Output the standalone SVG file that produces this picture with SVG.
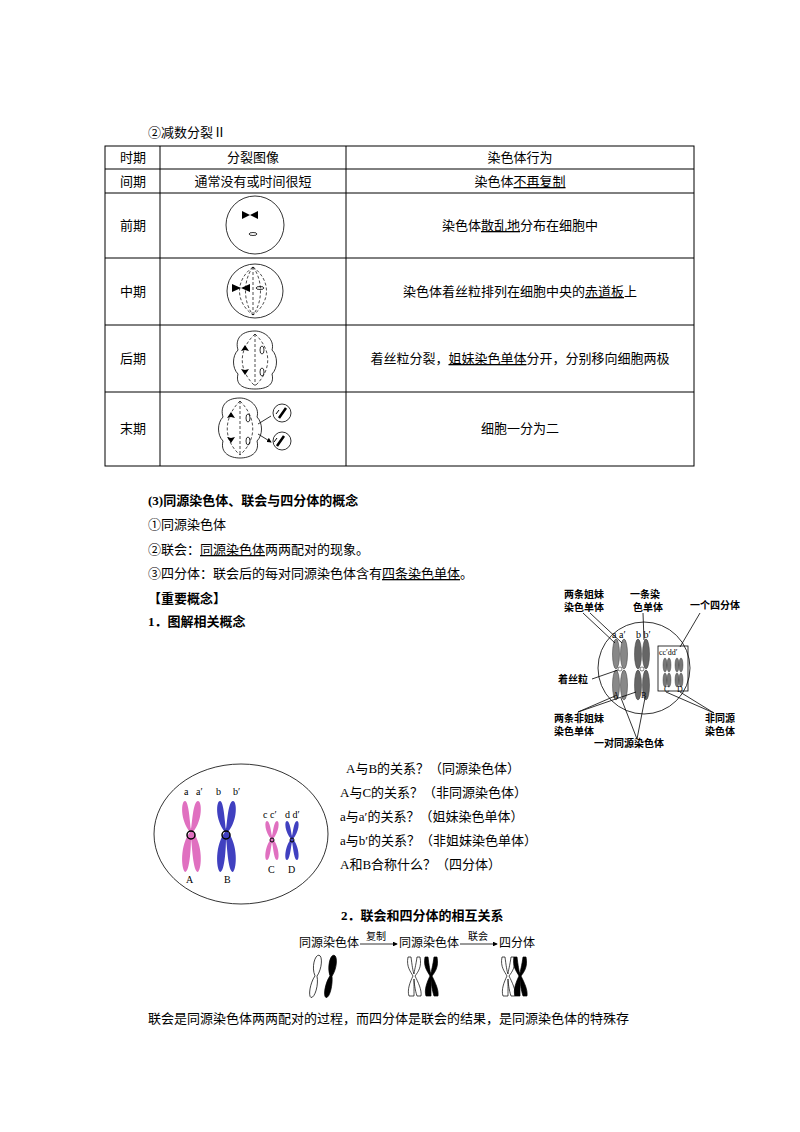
<svg xmlns="http://www.w3.org/2000/svg" width="800" height="1132" viewBox="0 0 800 1132">
<style>
text{font-family:"Liberation Serif","Noto Sans CJK SC",serif;font-size:13px;fill:#000}
.c{text-anchor:middle}
.b{font-weight:bold}
.s{font-size:10px}
.tl{stroke:#000;stroke-width:1;fill:none}
.d{stroke:#000;stroke-width:0.7;stroke-dasharray:3,2;fill:none}
.ln{stroke:#000;stroke-width:0.8;fill:none}
</style>
<defs>
<marker id="ar" markerWidth="6" markerHeight="6" refX="5" refY="3" orient="auto"><path d="M0,0L6,3L0,6z" fill="#000"/></marker>
</defs>
<rect width="800" height="1132" fill="#fff"/>
<text x="148" y="137">②减数分裂Ⅱ</text>
<g id="table">
<rect x="105" y="146" width="589" height="320" class="tl"/>
<path class="tl" d="M105,169H694M105,193H694M105,258H694M105,325H694M105,392H694M160,146V466M346,146V466"/>
<text x="133" y="162" class="c">时期</text><text x="253" y="162" class="c">分裂图像</text><text x="520" y="162" class="c">染色体行为</text>
<text x="133" y="186" class="c">间期</text><text x="253" y="186" class="c">通常没有或时间很短</text><text x="520" y="186" class="c">染色体<tspan text-decoration="underline">不再复制</tspan></text>
<text x="133" y="230" class="c">前期</text><text x="520" y="230" class="c">染色体<tspan text-decoration="underline">散乱地</tspan>分布在细胞中</text>
<text x="133" y="296" class="c">中期</text><text x="520" y="296" class="c">染色体着丝粒排列在细胞中央的<tspan text-decoration="underline">赤道板</tspan>上</text>
<text x="133" y="363" class="c">后期</text><text x="520" y="363" class="c">着丝粒分裂，<tspan text-decoration="underline">姐妹染色单体</tspan>分开，分别移向细胞两极</text>
<text x="133" y="433" class="c">末期</text><text x="520" y="433" class="c">细胞一分为二</text>
</g>
<g id="cell1"><circle cx="255" cy="225" r="29" class="ln"/><path d="M242,211l8,4l-8,4zM258,211l-8,4l8,4z" fill="#000"/><ellipse cx="253" cy="234" rx="4" ry="1.5" class="ln"/></g>
<g id="cell2"><ellipse cx="255" cy="291" rx="28" ry="27" class="ln"/><path class="d" d="M253,267V315M253,267C235,280 235,302 253,315M253,267C243,280 243,302 253,315M253,267C271,280 271,302 253,315M253,267C263,280 263,302 253,315"/><path d="M232,284l9,4l-9,4zM250,284l-9,4l9,4z" fill="#000"/><ellipse cx="260" cy="288" rx="4" ry="1.5" class="ln"/></g>
<g id="cell3"><path class="ln" d="M255,331C240,331 235,340 238,350C232,356 232,368 238,374C235,386 245,389 255,389C265,389 275,386 272,374C278,368 278,356 272,350C275,340 265,331 255,331z"/><path class="d" d="M255,334V386M255,334C238,350 238,370 255,386M255,334C272,350 272,370 255,386"/><path d="M245,345l4,6l-4,-1l-4,1zM245,375l4,-6l-4,1l-4,-1z" fill="#000"/><ellipse cx="262" cy="350" rx="2" ry="4" class="ln"/><ellipse cx="262" cy="372" rx="2" ry="4" class="ln"/></g>
<g id="cell4"><path class="ln" d="M240,398C225,398 220,407 223,417C217,423 217,435 223,441C220,453 230,458 240,458C250,458 260,453 257,441C263,435 263,423 257,417C260,407 250,398 240,398z"/><path class="d" d="M240,401V455M240,401C223,418 223,440 240,455M240,401C257,418 257,440 240,455"/><path d="M231,412l4,6l-4,-1l-4,1zM231,443l4,-6l-4,1l-4,-1z" fill="#000"/><ellipse cx="248" cy="418" rx="2" ry="4" class="ln"/><ellipse cx="248" cy="441" rx="2" ry="4" class="ln"/>
<path class="ln" d="M258,424L271,416M258,434L271,442" marker-end="url(#ar)"/><circle cx="282" cy="413" r="9" class="ln"/><circle cx="282" cy="441" r="9" class="ln"/><path d="M279,418L286,408M277,446L284,436" stroke="#000" stroke-width="2.5"/><path d="M276,414L279,410M274,442L277,438" stroke="#000" stroke-width="1"/></g>
<g id="concept">
<text x="148" y="505" class="b">(3)同源染色体、联会与四分体的概念</text>
<text x="148" y="529">①同源染色体</text>
<text x="148" y="554">②联会：<tspan text-decoration="underline">同源染色体</tspan>两两配对的现象。</text>
<text x="148" y="578">③四分体：联会后的每对同源染色体含有<tspan text-decoration="underline">四条染色单体</tspan>。</text>
<text x="148" y="603" class="b">【重要概念】</text>
<text x="148" y="626" class="b">1．图解相关概念</text>
</g>
<g id="fig1">
<circle cx="644" cy="668" r="46" class="ln"/>
<g fill="#888" stroke="#333" stroke-width="0.5"><ellipse cx="616" cy="654" rx="3.5" ry="15"/><ellipse cx="624" cy="654" rx="3.5" ry="15"/><ellipse cx="616" cy="685" rx="3.5" ry="15"/><ellipse cx="624" cy="685" rx="3.5" ry="15"/></g>
<g fill="#666" stroke="#333" stroke-width="0.5"><ellipse cx="638" cy="654" rx="3.5" ry="15"/><ellipse cx="646" cy="654" rx="3.5" ry="15"/><ellipse cx="638" cy="685" rx="3.5" ry="15"/><ellipse cx="646" cy="685" rx="3.5" ry="15"/></g>
<circle cx="620" cy="669" r="2" fill="#fff" stroke="#000" stroke-width="0.5"/><circle cx="642" cy="669" r="2" fill="#fff" stroke="#000" stroke-width="0.5"/>
<rect x="658" y="646" width="30" height="45" class="ln"/>
<g fill="#777" stroke="#333" stroke-width="0.4"><ellipse cx="665" cy="665" rx="2" ry="7"/><ellipse cx="669" cy="665" rx="2" ry="7"/><ellipse cx="665" cy="680" rx="2" ry="7"/><ellipse cx="669" cy="680" rx="2" ry="7"/><ellipse cx="677" cy="665" rx="2" ry="7"/><ellipse cx="681" cy="665" rx="2" ry="7"/><ellipse cx="677" cy="680" rx="2" ry="7"/><ellipse cx="681" cy="680" rx="2" ry="7"/></g>
<text x="612" y="638" class="s">a a′</text><text x="636" y="638" class="s">b b′</text><text x="659" y="655" class="s" style="font-size:8px">cc′dd′</text>
<text x="613" y="698" class="s" style="font-size:8px">A</text><text x="641" y="698" class="s" style="font-size:8px">B</text><text x="664" y="692" class="s" style="font-size:8px">C</text><text x="677" y="692" class="s" style="font-size:8px">D</text>
<text x="564" y="598" class="s b">两条姐妹</text><text x="564" y="611" class="s b">染色单体</text>
<text x="630" y="598" class="s b">一条染</text><text x="633" y="611" class="s b">色单体</text>
<text x="690" y="609" class="s b">一个四分体</text>
<text x="558" y="683" class="s b">着丝粒</text>
<text x="554" y="722" class="s b">两条非姐妹</text><text x="554" y="735" class="s b">染色单体</text>
<text x="705" y="722" class="s b">非同源</text><text x="705" y="735" class="s b">染色体</text>
<text x="594" y="747" class="s b">一对同源染色体</text>
<path class="ln" d="M583,613L615,643M590,613L622,643M643,613L644,640M700,613L680,647M592,679L618,670M578,712L615,696M578,712L636,692M637,739L621,698M637,739L645,698M714,713L666,692M714,713L680,692"/>
</g>
<g id="fig2">
<ellipse cx="241" cy="834" rx="87" ry="70" class="ln"/>
<path fill="#e070c0" d="M185,801C181,801 180,820 190,832C180,845 181,868 185,872C190,872 191,845 191,838C192,845 193,872 198,872C202,868 203,845 193,832C203,820 202,801 198,801C193,801 192,825 191,829C190,825 189,801 185,801z"/>
<path fill="#4040c0" d="M220,801C216,801 215,820 225,832C215,845 216,868 220,872C225,872 226,845 226,838C227,845 228,872 233,872C237,868 238,845 228,832C238,820 237,801 233,801C228,801 227,825 226,829C225,825 224,801 220,801z"/>
<path fill="#e070c0" d="M267,821C264,821 265,832 271,839C265,846 264,860 267,860C270,860 271,846 272,842C273,846 274,860 277,860C280,860 279,846 273,839C279,832 280,821 277,821C274,821 273,832 272,836C271,832 270,821 267,821z"/>
<path fill="#4040c0" d="M287,821C284,821 285,832 291,839C285,846 284,860 287,860C290,860 291,846 292,842C293,846 294,860 297,860C300,860 299,846 293,839C299,832 300,821 297,821C294,821 293,832 292,836C291,832 290,821 287,821z"/>
<circle cx="191" cy="835" r="4" fill="none" stroke="#000" stroke-width="1.5"/><circle cx="226" cy="835" r="4" fill="none" stroke="#000" stroke-width="1.5"/><circle cx="272" cy="840" r="2" fill="none" stroke="#000"/><circle cx="292" cy="840" r="2" fill="none" stroke="#000"/>
<text x="184" y="795" class="s">a</text><text x="196" y="795" class="s">a′</text><text x="216" y="795" class="s">b</text><text x="233" y="795" class="s">b′</text>
<text x="263" y="818" class="s">c c′</text><text x="285" y="818" class="s">d d′</text>
<text x="186" y="883" class="s">A</text><text x="224" y="883" class="s">B</text><text x="268" y="873" class="s">C</text><text x="288" y="873" class="s">D</text>
</g>
<g id="qa">
<text x="346" y="773">A与B的关系？（同源染色体）</text>
<text x="340" y="797">A与C的关系？（非同源染色体）</text>
<text x="340" y="821">a与a′的关系？（姐妹染色单体）</text>
<text x="340" y="845">a与b′的关系？（非姐妹染色单体）</text>
<text x="340" y="869">A和B合称什么？（四分体）</text>
</g>
<text x="341" y="920" class="b">2．联会和四分体的相互关系</text>
<g id="fig3">
<text x="299" y="947" style="font-size:12px">同源染色体</text>
<path class="ln" d="M360,944H397" marker-end="url(#ar)"/><text x="366" y="940" class="s">复制</text>
<text x="399" y="947" style="font-size:12px">同源染色体</text>
<path class="ln" d="M460,944H497" marker-end="url(#ar)"/><text x="468" y="940" class="s">联会</text>
<text x="499" y="947" style="font-size:12px">四分体</text>
<g stroke="#000" stroke-width="0.7"><path fill="#fff" d="M316,955C312,955 310,968 315,976C311,984 311,997 314,998C318,998 320,984 317,976C321,968 320,955 316,955z" transform="rotate(8 316 976)"/><path fill="#000" d="M331,955C327,955 326,968 330,976C326,984 326,997 329,998C333,998 334,984 332,976C336,968 335,955 331,955z" transform="rotate(8 331 976)"/>
<path fill="#fff" d="M408,957C406,967 411,972 413,976C410,982 407,990 409,996L414,996C414,990 414,982 414,979C414,982 415,990 417,996L421,996C422,990 418,982 415,976C418,972 422,967 420,957L417,957C416,965 414,972 414,974C413,972 412,965 411,957z"/>
<path fill="#000" d="M425,957C423,967 428,972 430,976C427,982 424,990 426,996L431,996C431,990 431,982 431,979C431,982 432,990 434,996L438,996C439,990 435,982 432,976C435,972 439,967 437,957L434,957C433,965 431,972 431,974C430,972 429,965 428,957z"/>
<path fill="#fff" d="M502,957C500,967 505,972 507,976C504,982 501,990 503,996L508,996C508,990 508,982 508,979C508,982 509,990 511,996L515,996C516,990 512,982 509,976C512,972 516,967 514,957L511,957C510,965 508,972 508,974C507,972 506,965 505,957z"/>
<path fill="#000" d="M514,957C512,967 517,972 519,976C516,982 513,990 515,996L520,996C520,990 520,982 520,979C520,982 521,990 523,996L527,996C528,990 524,982 521,976C524,972 528,967 526,957L523,957C522,965 520,972 520,974C519,972 518,965 517,957z"/></g>
</g>
<text x="148" y="1023">联会是同源染色体两两配对的过程，而四分体是联会的结果，是同源染色体的特殊存</text>
</svg>
